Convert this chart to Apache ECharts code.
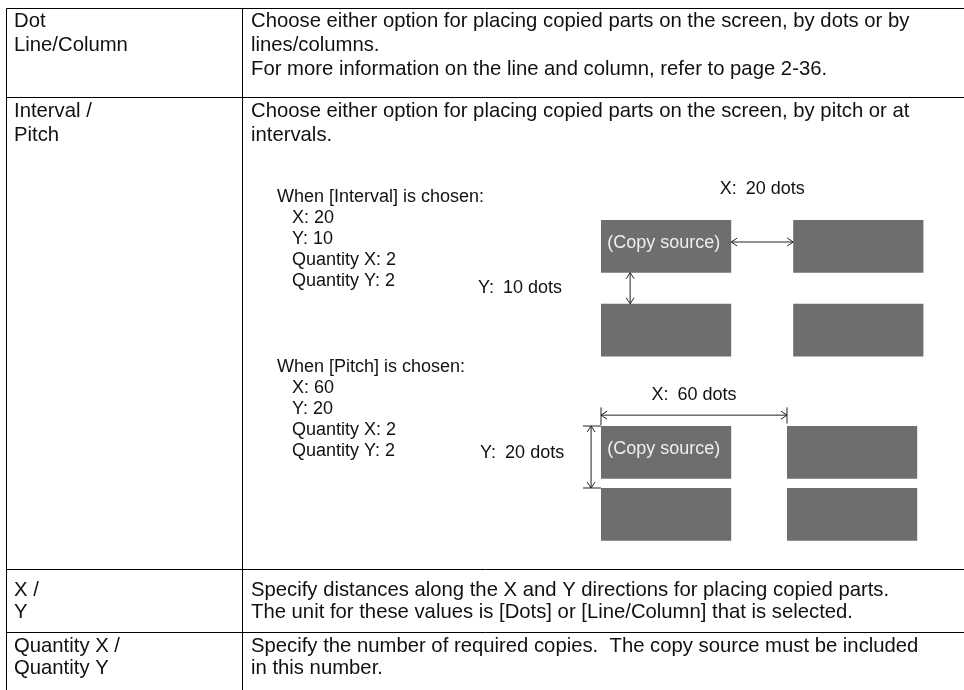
<!DOCTYPE html>
<html><head><meta charset="utf-8">
<script src="https://cdn.jsdelivr.net/npm/echarts@6/dist/echarts.min.js"></script>
<style>html,body{margin:0;padding:0;background:#fff}#c{width:964px;height:690px}</style>
</head><body><div id="c"></div>
<script>
// ---------- data ----------
const rowLabels = [["Dot", "Line/Column"], ["Interval /", "Pitch"], ["X /", "Y"], ["Quantity X /", "Quantity Y"]];
const rowDescriptions = [
  ["Choose either option for placing copied parts on the screen, by dots or by", "lines/columns.", "For more information on the line and column, refer to page 2-36."],
  ["Choose either option for placing copied parts on the screen, by pitch or at", "intervals."],
  ["Specify distances along the X and Y directions for placing copied parts.", "The unit for these values is [Dots] or [Line/Column] that is selected."],
  ["Specify the number of required copies.  The copy source must be included", "in this number."]
];
const settingNames = ["X", "Y", "Quantity X", "Quantity Y"];
const intervalValues = [20, 10, 2, 2];
const pitchValues = [60, 20, 2, 2];
const modeNames = ["Interval", "Pitch"];
const copySourceLabel = "(Copy source)";
const unitLabel = "dots";

// ---------- layout (not data) ----------
const W = 964, H = 690;
const FONT = '"Liberation Sans", Arial, sans-serif';
const L = {
  rowLines: [8, 97, 569, 632], left: 6, divider: 242,
  labelX: 14, descX: 251, firstLineOffset: [13, 14, 21, 14], lineGap: [24, 24, 22, 22],
  mainSize: 20.3, diagSize: 18,
  dot: 3.1, partW: 42, partH: 17,
  diagOrigins: [[601, 220], [601, 426]],
  infoX: 277, infoIndent: 15, infoTop: [197, 367], infoGap: 21
};
const TEXT = '#111', PART = '#6d6e70';

const chart = echarts.init(document.getElementById('c'));

function diagGrid(o) { return { left: o[0], top: o[1], width: 100 * L.dot, height: 50 * L.dot }; }

function txt(p, s, size, fill, align) {
  return { type: 'text', style: { text: s, x: p[0], y: p[1], fill: fill || TEXT, fontSize: size, fontFamily: FONT, verticalAlign: 'middle', align: align || 'left' } };
}
function seg(a, b, w) {
  return { type: 'line', shape: { x1: a[0], y1: a[1], x2: b[0], y2: b[1] }, style: { stroke: '#222', lineWidth: w || 1 } };
}
function arrow(a, b) {
  const out = [seg(a, b)];
  const len = 6, hw = 4;
  [[a, b], [b, a]].forEach(([p, q]) => {
    const dx = p[0] - q[0], dy = p[1] - q[1], d = Math.hypot(dx, dy);
    const ux = dx / d, uy = dy / d, nx = -uy, ny = ux;
    out.push(seg([p[0] - ux * len + nx * hw, p[1] - uy * len + ny * hw], p));
    out.push(seg([p[0] - ux * len - nx * hw, p[1] - uy * len - ny * hw], p));
  });
  return out;
}
const dimText = (axis, v) => axis + ':\u2002' + v + ' ' + unitLabel;

// table frame + texts
const tableSeries = {
  type: 'custom', xAxisIndex: 0, yAxisIndex: 0, silent: true,
  data: rowLabels.map((r, i) => [i]),
  renderItem(params, api) {
    const i = api.value(0);
    const ch = [];
    const top = L.rowLines[i];
    const bottom = i + 1 < L.rowLines.length ? L.rowLines[i + 1] : H;
    const c = (x, y) => api.coord([x, y]);
    const pl = (p) => [Math.round(p[0]) + 0.5, Math.round(p[1]) + 0.5];
    ch.push(seg(pl(c(L.left, top)), pl(c(W, top)), 1));
    ch.push(seg(pl(c(L.left, top)), pl(c(L.left, bottom + 1)), 1));
    ch.push(seg(pl(c(L.divider, top)), pl(c(L.divider, bottom + 1)), 1));
    ch.forEach(s => s.style.stroke = '#000');
    const y0 = top + L.firstLineOffset[i], g = L.lineGap[i];
    rowLabels[i].forEach((s, k) => ch.push(txt(c(L.labelX, y0 + k * g), s, L.mainSize)));
    rowDescriptions[i].forEach((s, k) => ch.push(txt(c(L.descX, y0 + k * g), s, L.mainSize)));
    return { type: 'group', children: ch };
  }
};

// settings text blocks in the Interval/Pitch cell
const infoSeries = {
  type: 'custom', xAxisIndex: 0, yAxisIndex: 0, silent: true,
  data: [[0], [1]],
  renderItem(params, api) {
    const m = api.value(0);
    const vals = m === 0 ? intervalValues : pitchValues;
    const ch = [];
    const y = L.infoTop[m];
    ch.push(txt(api.coord([L.infoX, y]), 'When [' + modeNames[m] + '] is chosen:', L.diagSize));
    settingNames.forEach((n, k) => ch.push(txt(api.coord([L.infoX + L.infoIndent, y + (k + 1) * L.infoGap]), n + ': ' + vals[k], L.diagSize)));
    return { type: 'group', children: ch };
  }
};

function partsData(vals, pitch) {
  const stepX = pitch ? vals[0] : L.partW + vals[0];
  const stepY = pitch ? vals[1] : L.partH + vals[1];
  const d = [];
  for (let r = 0; r < vals[3]; r++) for (let q = 0; q < vals[2]; q++) d.push([q * stepX, r * stepY, r === 0 && q === 0 ? 1 : 0]);
  return d;
}
function partsSeries(gi, vals, pitch) {
  return {
    type: 'custom', xAxisIndex: gi, yAxisIndex: gi, silent: true,
    data: partsData(vals, pitch),
    renderItem(params, api) {
      const x = api.value(0), y = api.value(1);
      const a = api.coord([x, y]), b = api.coord([x + L.partW, y + L.partH]);
      const ch = [{ type: 'rect', shape: { x: a[0], y: a[1], width: b[0] - a[0], height: b[1] - a[1] }, style: { fill: PART } }];
      if (api.value(2)) ch.push(txt(api.coord([x + 2, y + 7.3]), copySourceLabel, L.diagSize, '#eeeeee'));
      return { type: 'group', children: ch };
    }
  };
}
function dimSeries(gi, vals, pitch) {
  return {
    type: 'custom', xAxisIndex: gi, yAxisIndex: gi, silent: true,
    data: [[vals[0], vals[1]]],
    renderItem(params, api) {
      const X = api.value(0), Y = api.value(1);
      const c = (x, y) => api.coord([x, y]);
      let ch = [];
      if (!pitch) {
        ch = ch.concat(arrow(c(L.partW, 7.1), c(L.partW + X, 7.1)));
        ch = ch.concat(arrow(c(9.4, L.partH), c(9.4, L.partH + Y)));
        ch.push(txt(c(L.partW + X / 2, -10), dimText('X', X), L.diagSize, TEXT, 'center'));
        ch.push(txt(c(-39.7, L.partH + Y / 2), dimText('Y', Y), L.diagSize));
      } else {
        ch = ch.concat(arrow(c(0, -3.5), c(X, -3.5)));
        ch.push(seg(c(0, -6), c(0, -0.3)), seg(c(X, -6), c(X, -0.8)));
        ch = ch.concat(arrow(c(-3.2, 0), c(-3.2, Y)));
        ch.push(seg(c(-5.8, 0), c(0, 0)), seg(c(-5.8, Y), c(0, Y)));
        ch.push(txt(c(X / 2, -10), dimText('X', X), L.diagSize, TEXT, 'center'));
        ch.push(txt(c(-39, 8.7), dimText('Y', Y), L.diagSize));
      }
      return { type: 'group', children: ch };
    }
  };
}

const hiddenX = (gi, min, max) => ({ type: 'value', gridIndex: gi, min, max, show: false });
const hiddenY = (gi, min, max) => ({ type: 'value', gridIndex: gi, min, max, inverse: true, show: false });

chart.setOption({
  animation: false,
  backgroundColor: '#fff',
  grid: [{ left: 0, top: 0, width: W, height: H }, diagGrid(L.diagOrigins[0]), diagGrid(L.diagOrigins[1])],
  xAxis: [hiddenX(0, 0, W), hiddenX(1, 0, 100), hiddenX(2, 0, 100)],
  yAxis: [hiddenY(0, 0, H), hiddenY(1, 0, 50), hiddenY(2, 0, 50)],
  series: [
    tableSeries, infoSeries,
    partsSeries(1, intervalValues, false), dimSeries(1, intervalValues, false),
    partsSeries(2, pitchValues, true), dimSeries(2, pitchValues, true)
  ]
});
</script>
</body></html>
